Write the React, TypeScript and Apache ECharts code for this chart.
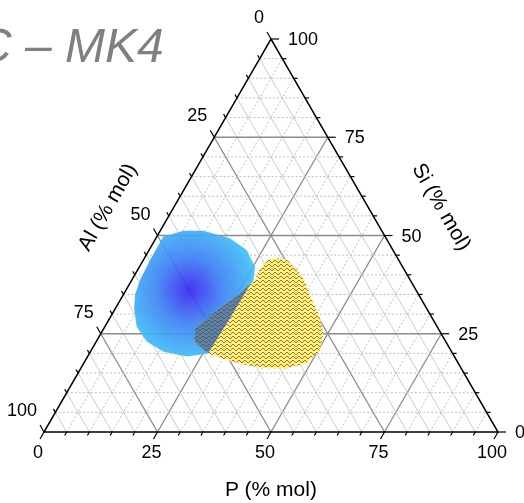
import React, { useEffect, useRef } from "react";
import * as echarts from "echarts";

const TITLE = "C – MK4";
const AXIS_P = "P (% mol)";
const AXIS_AL = "Al (% mol)";
const AXIS_SI = "Si (% mol)";
const TICK_VALUES = [0, 25, 50, 75, 100];
const TICK_LABELS = ["0", "25", "50", "75", "100"];
const MINOR_STEP = 5;

// Blue region outline (% mol)
const blueP = [1.4, 5.1, 9.5, 16.3, 21.5, 25.5, 26.8, 26.7, 26.5, 26.4, 26.2, 21.9, 16.1, 11.1, 7.0, 4.1, 2.6, 1.8, 1.5];
const blueSi = [49.7, 51.2, 51.2, 49.3, 46.3, 42.0, 38.7, 34.4, 29.3, 23.4, 20.0, 19.2, 20.4, 23.0, 26.8, 31.5, 34.9, 38.7, 43.8];
const blueAl = [48.9, 43.7, 39.3, 34.4, 32.2, 32.5, 34.5, 38.9, 44.2, 50.2, 53.8, 58.9, 63.5, 65.9, 66.2, 64.4, 62.5, 59.5, 54.7];

// Yellow region outline (% mol)
const yellowP = [29.2, 31.6, 34.8, 38.4, 42.2, 46.1, 49.0, 50.4, 49.1, 45.4, 41.0, 36.1, 31.1, 26.2, 21.6, 20.1, 22.5, 25.5, 27.1, 26.8, 27.5];
const yellowSi = [44.2, 43.8, 41.6, 38.2, 33.6, 29.3, 25.1, 20.9, 17.5, 16.2, 16.2, 17.0, 18.3, 20.0, 23.0, 26.4, 31.0, 35.3, 38.7, 41.6, 43.8];
const yellowAl = [26.6, 24.6, 23.6, 23.4, 24.2, 24.6, 25.9, 28.7, 33.4, 38.4, 42.8, 46.9, 50.6, 53.8, 55.4, 53.5, 46.5, 39.2, 34.2, 31.6, 28.7];

const SQ = Math.sqrt(3) / 2;
const FONT = '"Liberation Sans", Arial, Helvetica, sans-serif';

function xy(p: number, si: number): number[] {
  return [p + si / 2, si * SQ];
}
function tern(p: number, si: number, al: number): number[] {
  const s = p + si + al;
  return xy((p / s) * 100, (si / s) * 100);
}

function signedArea(poly: number[][]) {
  let a = 0;
  for (let i = 0; i < poly.length; i++) {
    const p = poly[i];
    const q = poly[(i + 1) % poly.length];
    a += p[0] * q[1] - q[0] * p[1];
  }
  return a / 2;
}

function clipPolygon(subject: number[][], clip: number[][]) {
  const sign = signedArea(clip) > 0 ? 1 : -1;
  let output = subject.slice();
  for (let i = 0; i < clip.length; i++) {
    const a = clip[i];
    const b = clip[(i + 1) % clip.length];
    const input = output;
    output = [];
    if (!input.length) break;
    const inside = (p: number[]) =>
      sign * ((b[0] - a[0]) * (p[1] - a[1]) - (b[1] - a[1]) * (p[0] - a[0])) >= 0;
    const inter = (p: number[], q: number[]) => {
      const rx = q[0] - p[0], ry = q[1] - p[1];
      const sx = b[0] - a[0], sy = b[1] - a[1];
      const denom = rx * sy - ry * sx;
      const t = ((a[0] - p[0]) * sy - (a[1] - p[1]) * sx) / denom;
      return [p[0] + t * rx, p[1] + t * ry];
    };
    for (let j = 0; j < input.length; j++) {
      const cur = input[j];
      const prev = input[(j + input.length - 1) % input.length];
      const ci = inside(cur);
      const pi = inside(prev);
      if (ci) {
        if (!pi) output.push(inter(prev, cur));
        output.push(cur);
      } else if (pi) {
        output.push(inter(prev, cur));
      }
    }
  }
  return output;
}

function makePattern(): string {
  const c = document.createElement("canvas");
  c.width = 6;
  c.height = 4;
  const g = c.getContext("2d")!;
  g.fillStyle = "#fff47e";
  g.fillRect(0, 0, 6, 4);
  g.fillStyle = "rgba(140,50,20,0.7)";
  const wave = [1, 2, 2, 1, 0, 0];
  for (let x = 0; x < 6; x++) g.fillRect(x, wave[x], 1, 1);
  return c.toDataURL();
}

export default function App() {
  const ref = useRef<HTMLDivElement>(null);
  useEffect(() => {
    if (!ref.current) return;
    const chart = echarts.init(ref.current, undefined, { renderer: "svg" });
    const patternUrl = makePattern();

    const blueXY = blueP.map((p, i) => tern(p, blueSi[i], blueAl[i]));
    const yellowXY = yellowP.map((p, i) => tern(p, yellowSi[i], yellowAl[i]));
    const overlapXY = clipPolygon(yellowXY, blueXY);

    const gridData: number[][] = [];
    for (let f = 0; f < 3; f++)
      for (let v = MINOR_STEP; v < 100; v += MINOR_STEP) gridData.push([f, v]);
    const tickData: number[][] = [];
    for (let f = 0; f < 3; f++)
      for (let v = 0; v <= 100; v += MINOR_STEP) tickData.push([f, v]);

    const option: any = {
      animation: false,
      grid: { left: 44, right: 26, top: 39, bottom: 71 },
      xAxis: { type: "value", min: 0, max: 100, show: false },
      yAxis: { type: "value", min: 0, max: 100 * SQ, show: false },
      graphic: [
        {
          type: "text",
          x: -23,
          y: 45,
          silent: true,
          style: {
            text: TITLE,
            font: "italic 48px " + FONT,
            fill: "#808080",
            verticalAlign: "middle",
          },
        },
      ],
      series: [
        {
          type: "custom",
          z: 1,
          silent: true,
          data: gridData,
          renderItem: (params: any, api: any) => {
            const f = api.value(0);
            const v = api.value(1);
            let a: number[], b: number[];
            if (f === 0) {
              a = xy(v, 0);
              b = xy(v, 100 - v);
            } else if (f === 1) {
              a = xy(100 - v, 0);
              b = xy(0, 100 - v);
            } else {
              a = xy(0, v);
              b = xy(100 - v, v);
            }
            const pa = api.coord(a);
            const pb = api.coord(b);
            const major = v % 25 === 0;
            const style = major
              ? { stroke: "#8c8c8c", lineWidth: 1.3, fill: null }
              : f === 1
              ? { stroke: "#cbcbcb", lineWidth: 1, fill: null }
              : { stroke: "#bdbdbd", lineWidth: 1, lineDash: [2, 2], fill: null };
            return {
              type: "line",
              shape: { x1: pa[0], y1: pa[1], x2: pb[0], y2: pb[1] },
              style,
            };
          },
        },
        {
          type: "custom",
          z: 2,
          silent: true,
          data: [0],
          renderItem: (params: any, api: any) => ({
            type: "polygon",
            shape: { points: blueXY.map((p) => api.coord(p)) },
            style: {
              fill: new echarts.graphic.RadialGradient(0.46, 0.47, 0.6, [
                { offset: 0, color: "#3422f0" },
                { offset: 0.45, color: "#3a80f4" },
                { offset: 1, color: "#3ecaf9" },
              ]),
              opacity: 0.9,
            },
          }),
        },
        {
          type: "custom",
          z: 3,
          silent: true,
          data: [0],
          renderItem: (params: any, api: any) => ({
            type: "polygon",
            shape: { points: yellowXY.map((p) => api.coord(p)) },
            style: {
              fill: { image: patternUrl, repeat: "repeat", imageWidth: 6, imageHeight: 4 },
            },
          }),
        },
        {
          type: "custom",
          z: 4,
          silent: true,
          data: [0],
          renderItem: (params: any, api: any) =>
            overlapXY.length > 2
              ? {
                  type: "polygon",
                  shape: { points: overlapXY.map((p) => api.coord(p)) },
                  style: { fill: "rgba(32,82,170,0.7)" },
                }
              : null,
        },
        {
          type: "custom",
          z: 5,
          silent: true,
          data: tickData,
          renderItem: (params: any, api: any) => {
            const f = api.value(0);
            const v = api.value(1);
            let base: number[], far: number[];
            if (f === 0) {
              base = xy(v, 0);
              far = xy(v, -10);
            } else if (f === 1) {
              base = xy(0, 100 - v);
              far = xy(-10, 110 - v);
            } else {
              base = xy(100 - v, v);
              far = xy(110 - v, v);
            }
            const pb = api.coord(base);
            const pf = api.coord(far);
            const dx = pf[0] - pb[0];
            const dy = pf[1] - pb[1];
            const d = Math.hypot(dx, dy);
            const idx = TICK_VALUES.indexOf(v);
            const major = idx >= 0;
            const len = major ? 8 : 4;
            const children: any[] = [
              {
                type: "line",
                shape: {
                  x1: pb[0],
                  y1: pb[1],
                  x2: pb[0] + (dx / d) * len,
                  y2: pb[1] + (dy / d) * len,
                },
                style: { stroke: "#000", lineWidth: 1.2 },
              },
            ];
            if (major) {
              let lx: number, ly: number, align: string;
              if (f === 0) {
                lx = pb[0] - 6;
                ly = pb[1] + 20;
                align = "center";
              } else if (f === 1) {
                lx = pb[0] - 7;
                ly = pb[1] - 22;
                align = "right";
              } else {
                lx = pb[0] + 17;
                ly = pb[1];
                align = "left";
              }
              children.push({
                type: "text",
                x: lx,
                y: ly,
                style: {
                  text: TICK_LABELS[idx],
                  font: "18px " + FONT,
                  fill: "#000",
                  align,
                  verticalAlign: "middle",
                },
              });
            }
            return { type: "group", children };
          },
        },
        {
          type: "custom",
          z: 6,
          silent: true,
          data: [0],
          renderItem: (params: any, api: any) => {
            const A = api.coord(xy(0, 0));
            const B = api.coord(xy(100, 0));
            const C = api.coord(xy(0, 100));
            const bottomMid = api.coord(xy(50, 0));
            const leftMid = api.coord(xy(0, 50));
            const rightMid = api.coord(xy(50, 50));
            return {
              type: "group",
              children: [
                {
                  type: "polygon",
                  shape: { points: [A, B, C] },
                  style: { fill: null, stroke: "#000", lineWidth: 1.5 },
                },
                {
                  type: "text",
                  x: bottomMid[0],
                  y: bottomMid[1] + 56,
                  style: {
                    text: AXIS_P,
                    font: "21px " + FONT,
                    fill: "#000",
                    align: "center",
                    verticalAlign: "middle",
                  },
                },
                {
                  type: "text",
                  x: leftMid[0] - 51,
                  y: leftMid[1] - 29,
                  rotation: Math.PI / 3,
                  style: {
                    text: AXIS_AL,
                    font: "21px " + FONT,
                    fill: "#000",
                    align: "center",
                    verticalAlign: "middle",
                  },
                },
                {
                  type: "text",
                  x: rightMid[0] + 58,
                  y: rightMid[1] - 29,
                  rotation: -Math.PI / 3,
                  style: {
                    text: AXIS_SI,
                    font: "21px " + FONT,
                    fill: "#000",
                    align: "center",
                    verticalAlign: "middle",
                  },
                },
              ],
            };
          },
        },
      ],
    };
    chart.setOption(option);
    return () => chart.dispose();
  }, []);
  return (
    <div
      ref={ref}
      style={{ position: "fixed", left: 0, top: 0, width: 524, height: 503 }}
    />
  );
}
